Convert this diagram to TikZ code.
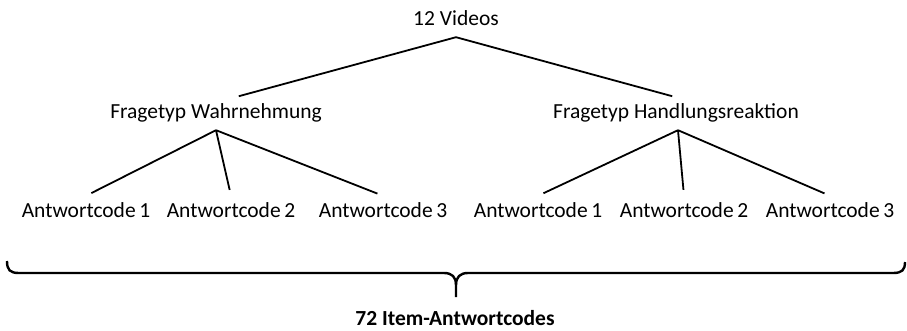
\documentclass[tikz,border=0pt]{standalone}
\usepackage{fontspec}
\setmainfont{Carlito}
\usepackage{tikz}
\tikzset{lbl/.style={anchor=base,inner xsep=0pt,inner ysep=6pt,text height=15pt,text depth=5pt,font=\fontsize{21.5}{26}\selectfont},
         ast/.style={line width=1.8pt,shorten >=6pt}}

\begin{document}
\begin{tikzpicture}[x=1pt,y=-1pt]
       \useasboundingbox (0,0) rectangle (907,331);
       \node[lbl] (videos) at (456,26) {12 Videos};
       \node[lbl] (wahr) at (216,119) {Fragetyp Wahrnehmung};
       \node[lbl] (handl) at (676,119) {Fragetyp Handlungsreaktion};
       \node[lbl] (w1) at (86,217) {Antwortcode\,1};
       \node[lbl] (w2) at (231,217) {Antwortcode\,2};
       \node[lbl] (w3) at (383,217) {Antwortcode\,3};
       \node[lbl] (h1) at (538,217) {Antwortcode\,1};
       \node[lbl] (h2) at (684,217) {Antwortcode\,2};
       \node[lbl] (h3) at (830,217) {Antwortcode\,3};
       \node[lbl,font=\fontsize{21.5}{26}\selectfont\bfseries] (total) at (455,325) {72 Item-Antwortcodes};
       \draw[ast] (videos.south) -- ([xshift=17pt]wahr.north);
       \draw[ast] (videos.south) -- ([xshift=2pt]handl.north);
       \foreach \c in {w1,w2,w3} \draw[ast] (wahr.south) -- (\c.north);
       \foreach \c in {h1,h2,h3} \draw[ast] ([xshift=2pt]handl.south) -- (\c.north);
       % brace
       \draw[line width=2.4pt] (7,261) .. controls (7,270) and (10,273) .. (19,273) -- (444,273)
         .. controls (452,273) and (456,277) .. (456,285) -- (456,297);
       \draw[line width=2.4pt] (905,262) .. controls (905,270) and (902,273) .. (893,273) -- (468,273)
         .. controls (460,273) and (456,277) .. (456,285);
      \end{tikzpicture}
\end{document}
